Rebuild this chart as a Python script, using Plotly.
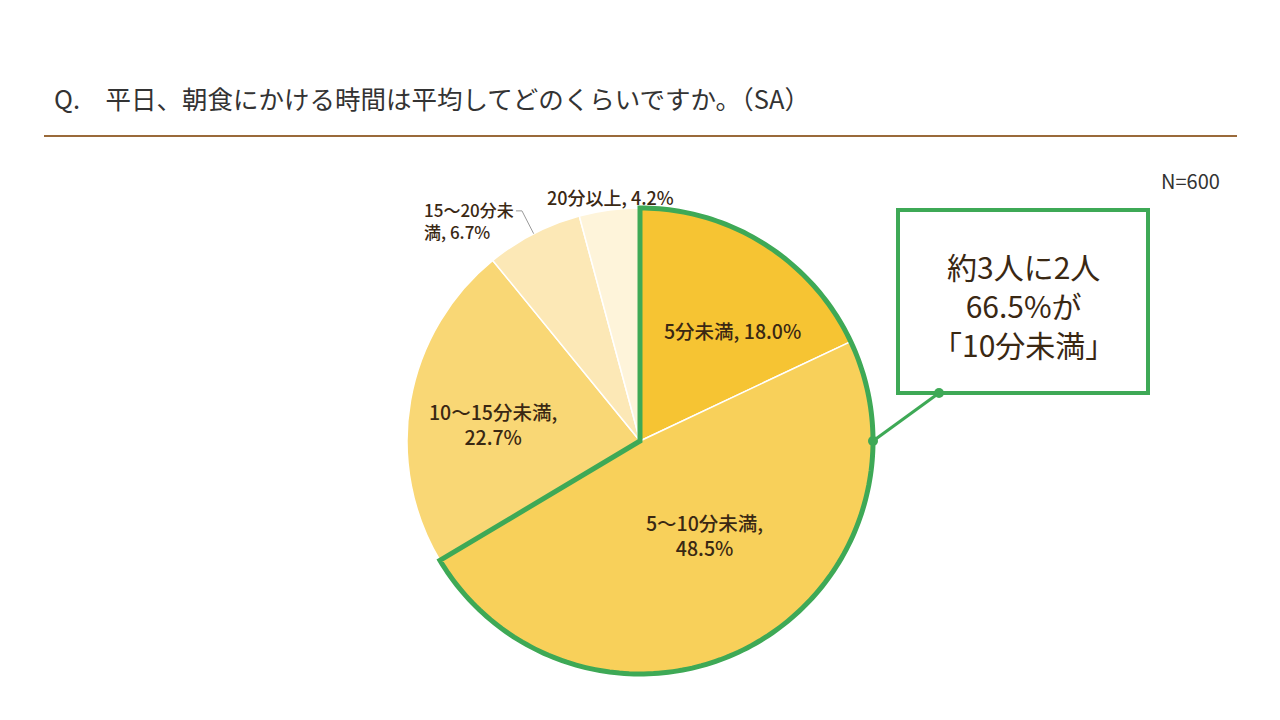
import numpy as np
import plotly.graph_objects as go

# ---- data ----
categories = ["5分未満", "5～10分未満", "10～15分未満", "15～20分未満", "20分以上"]
values = [18.0, 48.5, 22.7, 6.7, 4.2]
colors = ["#F6C433", "#F8D05A", "#F9D775", "#FCE8B6", "#FEF4DA"]
title_text = "Q.\u2002\u2002平日、朝食にかける時間は平均してどのくらいですか。（SA）"
n_text = "N=600"
highlight_count = 2  # first two slices = under 10 minutes

# ---- geometry (pixels, canvas 1280x720) ----
W, H = 1280, 720
CX, CY, R = 640, 441, 233
GREEN = "#3EA956"
TEXT = "#3A2813"
FONT = "Noto Sans CJK JP"

total = sum(values)
cum = np.concatenate([[0], np.cumsum(values)]) / total * 360.0
mids = (cum[:-1] + cum[1:]) / 2


def pt(angle_deg, rfrac):
    a = np.radians(angle_deg)
    return CX + R * rfrac * np.sin(a), CY - R * rfrac * np.cos(a)


fig = go.Figure()
fig.add_trace(go.Pie(
    labels=categories, values=values, sort=False, direction="clockwise", rotation=0,
    marker=dict(colors=colors, line=dict(color="white", width=1.5)),
    textinfo="none", hoverinfo="label+percent",
    domain=dict(x=[(CX - R) / W, (CX + R) / W], y=[1 - (CY + R) / H, 1 - (CY - R) / H]),
    showlegend=False,
))
fig.add_trace(go.Scatter(x=[], y=[], showlegend=False))

shapes = []
annotations = []

# title and rule
annotations.append(dict(x=52, y=97, xref="x", yref="y", text=title_text, showarrow=False,
                        xanchor="left", yanchor="middle",
                        font=dict(family=FONT, size=25.5, color="#333333")))
shapes.append(dict(type="line", xref="x", yref="y", x0=44, x1=1237, y0=136, y1=136,
                   line=dict(color="#9A6A3A", width=2)))
annotations.append(dict(x=1222, y=180, xref="x", yref="y", text=n_text, showarrow=False,
                        xanchor="right", yanchor="middle",
                        font=dict(family=FONT, size=20, color="#333333")))

# slice labels
wrap = [None, "comma", "comma", 7, None]
label_r = [0.62, 0.49, 0.635, None, 1.055]
label_dang = [7.5, -6.3, -3.3, 0, 0.6]
for i, (cat, v) in enumerate(zip(categories, values)):
    base = f"{cat}, {v:.1f}%"
    if wrap[i] == "comma":
        txt = f"{cat},<br>{v:.1f}%"
    elif isinstance(wrap[i], int):
        txt = base[:wrap[i]] + "<br>" + base[wrap[i]:]
    else:
        txt = base
    if label_r[i] is None:
        # outside with leader line
        x0, y0 = pt(mids[i], 1.0)
        x1, y1 = pt(mids[i], 1.11)
        shapes.append(dict(type="line", xref="x", yref="y", x0=x0, y0=y0, x1=x1, y1=y1,
                           line=dict(color="#9A9A9A", width=1)))
        shapes.append(dict(type="line", xref="x", yref="y", x0=x1 - 6, y0=y1, x1=x1, y1=y1,
                           line=dict(color="#9A9A9A", width=1)))
        annotations.append(dict(x=x1 - 6, y=y1 + 10, xref="x", yref="y", text=txt,
                                showarrow=False, xanchor="right", yanchor="middle", align="left",
                                font=dict(family=FONT, size=17, color=TEXT, weight=500)))
    else:
        x, y = pt(mids[i] + label_dang[i], label_r[i])
        annotations.append(dict(x=x, y=y, xref="x", yref="y", text=txt,
                                showarrow=False, xanchor="center", yanchor="middle",
                                align="center",
                                font=dict(family=FONT, size=19.5 if label_r[i] < 1 else 18,
                                          color=TEXT, weight=500)))

# green highlight outline around the first slices
end_angle = cum[highlight_count]
arc = np.linspace(0, end_angle, 200)
pts = [(CX, CY)] + [pt(a, 1.0) for a in arc] + [(CX, CY)]
path = "M " + " L ".join(f"{x:.2f},{y:.2f}" for x, y in pts) + " Z"
shapes.append(dict(type="path", xref="x", yref="y", path=path,
                   line=dict(color=GREEN, width=5), fillcolor="rgba(0,0,0,0)", layer="above"))

# callout box
bx0, by0, bx1, by1 = 898, 210, 1148, 393
shapes.append(dict(type="rect", xref="x", yref="y", x0=bx0, y0=by0, x1=bx1, y1=by1,
                   line=dict(color=GREEN, width=4), fillcolor="white"))
sx, sy = pt(90, 1.0)
ex, ey = 939, by1
shapes.append(dict(type="line", xref="x", yref="y", x0=sx, y0=sy, x1=ex, y1=ey,
                   line=dict(color=GREEN, width=3)))
for (px, py) in [(sx, sy), (ex, ey)]:
    shapes.append(dict(type="circle", xref="x", yref="y", x0=px - 5, x1=px + 5, y0=py - 5, y1=py + 5,
                       line=dict(color=GREEN, width=0), fillcolor=GREEN))
share = sum(values[:highlight_count])
annotations.append(dict(x=(bx0 + bx1) / 2, y=305, xref="x", yref="y",
                        text=f"約3人に2人<br>{share:.1f}%が<br>「10分未満」",
                        showarrow=False, xanchor="center", yanchor="middle", align="center",
                        font=dict(family=FONT, size=30, color=TEXT)))

fig.update_layout(
    width=W, height=H, margin=dict(l=0, r=0, t=0, b=0),
    paper_bgcolor="white", plot_bgcolor="white",
    xaxis=dict(range=[0, W], visible=False, fixedrange=True, domain=[0, 1]),
    yaxis=dict(range=[H, 0], visible=False, fixedrange=True, domain=[0, 1]),
    shapes=shapes, annotations=annotations, showlegend=False,
)
fig.write_html("out.html", config={"displayModeBar": False},
               post_script="document.body.style.margin='0';document.body.style.overflow='hidden';")
